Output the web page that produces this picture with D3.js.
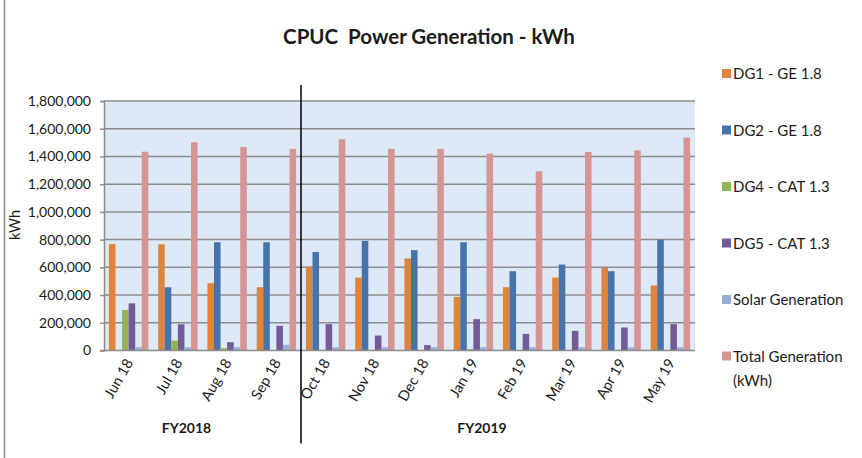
<!DOCTYPE html>
<html>
<head>
<meta charset="utf-8">
<script src="https://cdn.jsdelivr.net/npm/d3@7"></script>
<style>
  body { margin: 0; background: #fff; }
  text { font-family: Lato, "Open Sans", sans-serif; fill: #1a1a1a; }
</style>
</head>
<body>
<div id="chart"></div>
<script>
var svgWidth = 862;
var svgHeight = 458;

var margin = { top: 101, right: 167, bottom: 107.5, left: 104 };
var width = svgWidth - margin.left - margin.right;
var height = svgHeight - margin.top - margin.bottom;

// data
var months = ["Jun 18", "Jul 18", "Aug 18", "Sep 18", "Oct 18", "Nov 18",
  "Dec 18", "Jan 19", "Feb 19", "Mar 19", "Apr 19", "May 19"];
var seriesNames = ["DG1 - GE 1.8", "DG2 - GE 1.8", "DG4 - CAT 1.3",
  "DG5 - CAT 1.3", "Solar Generation", "Total Generation (kWh)"];
var seriesColors = ["#E0843C", "#4573AA", "#93B452", "#745A98", "#96AEDA", "#D69493"];

var dg1   = [768000, 766000, 486000, 457000, 605000, 526000, 664000, 387000, 457000, 526000, 596000, 469000];
var dg2   = [0, 456000, 781000, 781000, 711000, 791000, 724000, 781000, 572000, 620000, 572000, 800000];
var dg4   = [292000, 71000, 17000, 0, 0, 0, 0, 10000, 0, 0, 0, 0];
var dg5   = [340000, 189000, 60000, 178000, 190000, 108000, 39000, 226000, 120000, 142000, 166000, 190000];
var solar = [23000, 23000, 23000, 41000, 23000, 23000, 23000, 23000, 23000, 23000, 23000, 23000];
var total = [1434000, 1502000, 1468000, 1454000, 1524000, 1454000, 1454000, 1420000, 1293000, 1432000, 1444000, 1536000];
var allSeries = [dg1, dg2, dg4, dg5, solar, total];

var yTicks = [0, 200000, 400000, 600000, 800000, 1000000, 1200000, 1400000, 1600000, 1800000];
var fiscalYears = [
  { label: "FY2018", first: "Jun 18", last: "Sep 18" },
  { label: "FY2019", first: "Oct 18", last: "May 19" }
];

var svg = d3.select("#chart")
  .append("svg")
  .attr("width", svgWidth)
  .attr("height", svgHeight);

// chart border on the left
svg.append("line")
  .attr("x1", 4.5).attr("x2", 4.5)
  .attr("y1", 0).attr("y2", svgHeight)
  .attr("stroke", "#8a8a8a")
  .attr("stroke-width", 1.5);

// title
svg.append("text")
  .attr("x", 429)
  .attr("y", 44)
  .attr("text-anchor", "middle")
  .style("white-space", "pre")
  .attr("font-size", 20.5)
  .attr("font-weight", "bold")
  .text("CPUC  Power Generation - kWh");

var chartGroup = svg.append("g")
  .attr("transform", `translate(${margin.left}, ${margin.top})`);

var xScale = d3.scaleBand()
  .domain(months)
  .range([0, width])
  .paddingInner(0.2)
  .paddingOuter(0.1);

var xInner = d3.scaleBand()
  .domain(d3.range(allSeries.length))
  .range([0, xScale.bandwidth()]);

var yScale = d3.scaleLinear()
  .domain([0, 1800000])
  .range([height, 0]);

// plot area background
chartGroup.append("rect")
  .attr("width", width)
  .attr("height", height)
  .attr("fill", "#DDE9F6");

// gridlines
chartGroup.append("g")
  .selectAll("line")
  .data(yTicks.slice(1))
  .enter()
  .append("line")
  .attr("x1", 0)
  .attr("x2", width)
  .attr("y1", d => yScale(d))
  .attr("y2", d => yScale(d))
  .attr("stroke", "#8c8c8c")
  .attr("stroke-width", 1.5);

// y axis
var leftAxis = d3.axisLeft(yScale)
  .tickValues(yTicks)
  .tickSize(4)
  .tickPadding(9)
  .tickFormat(d3.format(","));

var yAxis = chartGroup.append("g").call(leftAxis);
yAxis.select(".domain").attr("stroke", "#8c8c8c").attr("stroke-width", 1.5);
yAxis.selectAll(".tick line").attr("stroke", "#8c8c8c").attr("stroke-width", 1.5);
yAxis.selectAll(".tick text")
  .attr("font-size", 14)
  .attr("font-family", "Lato, sans-serif")
  .attr("fill", "#1a1a1a");

// bars
var monthGroups = chartGroup.selectAll(".month")
  .data(months)
  .enter()
  .append("g")
  .attr("transform", d => `translate(${xScale(d)}, 0)`);

monthGroups.selectAll("rect")
  .data((m, i) => allSeries.map((s, k) => ({ k: k, v: s[i] })))
  .enter()
  .append("rect")
  .attr("x", d => xInner(d.k))
  .attr("width", xInner.bandwidth())
  .attr("y", d => yScale(d.v))
  .attr("height", d => height - yScale(d.v))
  .attr("fill", d => seriesColors[d.k]);

// x axis baseline
chartGroup.append("line")
  .attr("x1", -4)
  .attr("x2", width)
  .attr("y1", height)
  .attr("y2", height)
  .attr("stroke", "#8c8c8c")
  .attr("stroke-width", 1.5);

// month labels
chartGroup.append("g")
  .selectAll("text")
  .data(months)
  .enter()
  .append("text")
  .attr("text-anchor", "end")
  .attr("font-size", 14.5)
  .attr("transform", d => `translate(${xScale(d) + xScale.bandwidth() / 2 + 5}, ${height + 12}) rotate(-60)`)
  .text(d => d);

// fiscal year divider
var step = xScale.step();
chartGroup.append("line")
  .attr("x1", xScale("Oct 18") - step * 0.1)
  .attr("x2", xScale("Oct 18") - step * 0.1)
  .attr("y1", -16)
  .attr("y2", height + 93)
  .attr("stroke", "#000")
  .attr("stroke-width", 1.5);

// fiscal year labels
chartGroup.append("g")
  .selectAll("text")
  .data(fiscalYears)
  .enter()
  .append("text")
  .attr("text-anchor", "middle")
  .attr("font-size", 14)
  .attr("font-weight", "bold")
  .attr("x", d => (xScale(d.first) + xScale(d.last) + xScale.bandwidth()) / 2 - 16)
  .attr("y", height + 82)
  .text(d => d.label);

// y axis title
svg.append("text")
  .attr("transform", "translate(20, 225) rotate(-90)")
  .attr("text-anchor", "middle")
  .attr("font-size", 14.5)
  .text("kWh");

// legend
var legend = svg.append("g")
  .attr("transform", "translate(722, 69)");

var legendRows = legend.selectAll("g")
  .data(seriesNames)
  .enter()
  .append("g")
  .attr("transform", (d, i) => `translate(0, ${i * 56.5})`);

legendRows.append("rect")
  .attr("width", 9)
  .attr("height", 9)
  .attr("fill", (d, i) => seriesColors[i]);

legendRows.append("text")
  .attr("x", 11)
  .attr("y", 10)
  .attr("font-size", 15)
  .each(function(d) {
    var t = d3.select(this);
    if (d === "Total Generation (kWh)") {
      t.append("tspan").attr("x", 11).text("Total Generation");
      t.append("tspan").attr("x", 11).attr("dy", 24).text("(kWh)");
    } else {
      t.text(d);
    }
  });
</script>
</body>
</html>
